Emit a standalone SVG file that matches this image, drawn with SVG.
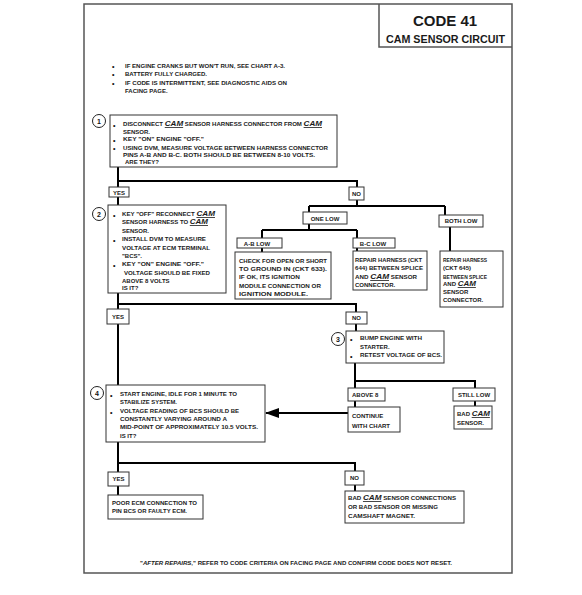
<svg xmlns="http://www.w3.org/2000/svg" width="582" height="595" viewBox="0 0 582 595">
<style>
.t{font-family:"Liberation Sans",Arial,sans-serif;font-weight:bold;font-size:6px;fill:#1a1a1a}
.c{text-anchor:middle}
.cam{font-style:italic;font-size:8px;text-decoration:underline}
.box{fill:#fff;stroke:#333;stroke-width:1}
.frame{fill:none;stroke:#555;stroke-width:1.5}
.con{fill:none;stroke:#000;stroke-width:2}
.num{fill:#fff;stroke:#222;stroke-width:1}
.n{font-family:"Liberation Sans",Arial,sans-serif;font-weight:bold;font-size:7px;text-anchor:middle;fill:#111}
.bul{font-family:"Liberation Sans",Arial,sans-serif;font-weight:bold;font-size:7px;fill:#111}
</style>
<defs>
<marker id="ah" markerWidth="14" markerHeight="10" refX="13" refY="5" orient="auto" markerUnits="userSpaceOnUse">
<path d="M0,0 L14,5 L0,10 Z" fill="#000"/>
</marker>
</defs>
<rect width="582" height="595" fill="#fff"/>
<g id="frame">
<rect class="frame" x="84" y="4" width="428" height="569"/>
<path class="frame" d="M379,4 V47 H512"/>
<text class="t c" x="445" y="26" style="font-size:15px">CODE 41</text>
<text class="t c" x="445.5" y="43" style="font-size:11.5px" textLength="119" lengthAdjust="spacingAndGlyphs">CAM SENSOR CIRCUIT</text>
</g>
<g id="notes">
<text class="bul" x="112" y="69">•</text>
<text class="bul" x="112" y="77">•</text>
<text class="bul" x="112" y="86">•</text>
<text class="t" x="125" y="68" textLength="160" lengthAdjust="spacingAndGlyphs">IF ENGINE CRANKS BUT WON'T RUN, SEE CHART A-3.</text>
<text class="t" x="125" y="76" textLength="82" lengthAdjust="spacingAndGlyphs">BATTERY FULLY CHARGED.</text>
<text class="t" x="125" y="85" textLength="162" lengthAdjust="spacingAndGlyphs">IF CODE IS INTERMITTENT, SEE DIAGNOSTIC AIDS ON</text>
<text class="t" x="125" y="93">FACING PAGE.</text>
</g>
<g id="connectors">
<path class="con" d="M118,167 V187 M118,181 H357 V187"/>
<path class="con" d="M118,196 V205"/>
<path class="con" d="M357,200 V206 M309,206 H445 M309,206 V212 M445,206 V215"/>
<path class="con" d="M309,224 V230 M262,230 H357 M262,230 V238 M357,230 V238"/>
<path class="con" d="M262,248 V253 M357,248 V251 M450,227 V251"/>
<path class="con" d="M118,291 V309 M118,304 H356 V312"/>
<path class="con" d="M356,324 V331"/>
<path class="con" d="M118,324 V385"/>
<path class="con" d="M355,363 V388 M355,381 H475 V388"/>
<path class="con" d="M355,401 V407 M475,401 V406"/>
<path class="con" d="M348,413 H266" marker-end="url(#ah)"/>
<path class="con" d="M118,442 V472 M118,463 H355 V471"/>
<path class="con" d="M118,486 V495 M355,485 V491"/>
</g>
<g id="step1">
<circle class="num" cx="99" cy="121" r="6.5"/>
<text class="n" x="99" y="123.5">1</text>
<rect class="box" x="110" y="115" width="227" height="52"/>
<text class="bul" x="113" y="128">•</text>
<text class="bul" x="113" y="143">•</text>
<text class="bul" x="113" y="151">•</text>
<text class="t" x="123" y="126" textLength="199" lengthAdjust="spacingAndGlyphs">DISCONNECT <tspan class="cam">CAM</tspan> SENSOR HARNESS CONNECTOR FROM <tspan class="cam">CAM</tspan></text>
<text class="t" x="123" y="134">SENSOR.</text>
<text class="t" x="123" y="141" textLength="81" lengthAdjust="spacingAndGlyphs">KEY "ON" ENGINE "OFF."</text>
<text class="t" x="123" y="150" textLength="205" lengthAdjust="spacingAndGlyphs">USING DVM, MEASURE VOLTAGE BETWEEN HARNESS CONNECTOR</text>
<text class="t" x="123" y="157" textLength="192" lengthAdjust="spacingAndGlyphs">PINS A-B AND B-C.  BOTH SHOULD BE BETWEEN 8-10 VOLTS.</text>
<text class="t" x="125" y="164">ARE THEY?</text>
</g>
<g id="yes1"><rect class="box" x="109" y="187" width="20" height="10"/><text class="t c" x="119" y="195">YES</text></g>
<g id="no1"><rect class="box" x="349" y="187" width="15" height="13"/><text class="t c" x="356.5" y="196">NO</text></g>
<g id="onelow"><rect class="box" x="303" y="212" width="44" height="12"/><text class="t c" x="325" y="220.5">ONE LOW</text></g>
<g id="bothlow"><rect class="box" x="439" y="215" width="44" height="12"/><text class="t c" x="461" y="223">BOTH LOW</text></g>
<g id="ablow"><rect class="box" x="237" y="238" width="45" height="10"/><text class="t c" x="257" y="245.5">A-B LOW</text></g>
<g id="bclow"><rect class="box" x="353" y="238" width="42" height="10"/><text class="t c" x="373" y="245.5">B-C  LOW</text></g>
<g id="step2">
<circle class="num" cx="99" cy="214" r="6.5"/>
<text class="n" x="99" y="216.5">2</text>
<rect class="box" x="108" y="205" width="118" height="88"/>
<text class="bul" x="113" y="218">•</text>
<text class="bul" x="113" y="243">•</text>
<text class="bul" x="113" y="268">•</text>
<text class="t" x="122" y="216" textLength="93" lengthAdjust="spacingAndGlyphs">KEY "OFF" RECONNECT <tspan class="cam">CAM</tspan></text>
<text class="t" x="122" y="224" textLength="86" lengthAdjust="spacingAndGlyphs">SENSOR HARNESS TO <tspan class="cam">CAM</tspan></text>
<text class="t" x="122" y="233">SENSOR.</text>
<text class="t" x="122" y="241" textLength="84" lengthAdjust="spacingAndGlyphs">INSTALL DVM TO MEASURE</text>
<text class="t" x="122" y="250" textLength="88" lengthAdjust="spacingAndGlyphs">VOLTAGE AT ECM TERMINAL</text>
<text class="t" x="122" y="258">"BCS".</text>
<text class="t" x="122" y="266" textLength="82" lengthAdjust="spacingAndGlyphs">KEY "ON" ENGINE "OFF."</text>
<text class="t" x="124" y="275" textLength="86" lengthAdjust="spacingAndGlyphs">VOLTAGE SHOULD BE FIXED</text>
<text class="t" x="122" y="283">ABOVE 8 VOLTS</text>
<text class="t" x="122" y="290">IS IT?</text>
</g>
<g id="abfix">
<rect class="box" x="235" y="252" width="96" height="47"/>
<text class="t" x="239" y="263" textLength="88" lengthAdjust="spacingAndGlyphs">CHECK FOR OPEN OR SHORT</text>
<text class="t" x="239" y="271" textLength="88" lengthAdjust="spacingAndGlyphs">TO GROUND IN (CKT 633).</text>
<text class="t" x="239" y="279" textLength="61" lengthAdjust="spacingAndGlyphs">IF OK, ITS  IGNITION</text>
<text class="t" x="239" y="288" textLength="82" lengthAdjust="spacingAndGlyphs">MODULE CONNECTION OR</text>
<text class="t" x="239" y="296" textLength="69" lengthAdjust="spacingAndGlyphs">IGNITION MODULE.</text>
</g>
<g id="bcfix">
<rect class="box" x="353" y="251" width="74" height="39"/>
<text class="t" x="355" y="262" textLength="67" lengthAdjust="spacingAndGlyphs">REPAIR HARNESS (CKT</text>
<text class="t" x="355" y="270" textLength="68" lengthAdjust="spacingAndGlyphs">644) BETWEEN SPLICE</text>
<text class="t" x="355" y="279" textLength="62" lengthAdjust="spacingAndGlyphs">AND <tspan class="cam">CAM</tspan> SENSOR</text>
<text class="t" x="355" y="287">CONNECTOR.</text>
</g>
<g id="bothfix">
<rect class="box" x="440" y="251" width="63" height="56"/>
<text class="t" x="443" y="262" textLength="44" lengthAdjust="spacingAndGlyphs">REPAIR HARNESS</text>
<text class="t" x="443" y="270">(CKT 645)</text>
<text class="t" x="443" y="279" textLength="44" lengthAdjust="spacingAndGlyphs">BETWEEN SPLICE</text>
<text class="t" x="443" y="286">AND <tspan class="cam">CAM</tspan></text>
<text class="t" x="443" y="294">SENSOR</text>
<text class="t" x="443" y="302">CONNECTOR.</text>
</g>
<g id="yes2"><rect class="box" x="107" y="309" width="22" height="15"/><text class="t c" x="118" y="319">YES</text></g>
<g id="no2"><rect class="box" x="346" y="312" width="21" height="12"/><text class="t c" x="356.5" y="320">NO</text></g>
<g id="step3">
<circle class="num" cx="338" cy="339" r="6.5"/>
<text class="n" x="338" y="341.5">3</text>
<rect class="box" x="346" y="331" width="98" height="32"/>
<text class="bul" x="350" y="342">•</text>
<text class="bul" x="350" y="359">•</text>
<text class="t" x="360" y="340" textLength="62" lengthAdjust="spacingAndGlyphs">BUMP ENGINE WITH</text>
<text class="t" x="360" y="349">STARTER.</text>
<text class="t" x="360" y="357" textLength="82" lengthAdjust="spacingAndGlyphs">RETEST VOLTAGE OF BCS.</text>
</g>
<g id="above8"><rect class="box" x="348" y="388" width="37" height="13"/><text class="t" x="352" y="397">ABOVE  8</text></g>
<g id="stilllow"><rect class="box" x="453" y="388" width="42" height="13"/><text class="t c" x="474" y="397">STILL LOW</text></g>
<g id="continue">
<rect class="box" x="348" y="407" width="52" height="25"/>
<text class="t" x="352" y="418">CONTINUE</text>
<text class="t" x="352" y="428">WITH CHART</text>
</g>
<g id="badcam">
<rect class="box" x="454" y="406" width="38" height="23"/>
<text class="t" x="457" y="416">BAD <tspan class="cam">CAM</tspan></text>
<text class="t" x="457" y="425">SENSOR.</text>
</g>
<g id="step4">
<circle class="num" cx="97" cy="393" r="6.5"/>
<text class="n" x="97" y="395.5">4</text>
<rect class="box" x="106" y="385" width="159" height="57"/>
<text class="bul" x="110" y="398">•</text>
<text class="bul" x="110" y="415">•</text>
<text class="t" x="120" y="396" textLength="117" lengthAdjust="spacingAndGlyphs">START ENGINE, IDLE FOR 1 MINUTE TO</text>
<text class="t" x="120" y="404" textLength="57" lengthAdjust="spacingAndGlyphs">STABILIZE SYSTEM.</text>
<text class="t" x="120" y="413" textLength="119" lengthAdjust="spacingAndGlyphs">VOLTAGE READING OF BCS SHOULD BE</text>
<text class="t" x="120" y="421" textLength="107" lengthAdjust="spacingAndGlyphs">CONSTANTLY VARYING AROUND A</text>
<text class="t" x="120" y="429" textLength="138" lengthAdjust="spacingAndGlyphs">MID-POINT OF APPROXIMATELY 10.5  VOLTS.</text>
<text class="t" x="120" y="438">IS IT?</text>
</g>
<g id="yes3"><rect class="box" x="108" y="472" width="21" height="14"/><text class="t c" x="118.5" y="481">YES</text></g>
<g id="no3"><rect class="box" x="345" y="471" width="19" height="14"/><text class="t c" x="354.5" y="480">NO</text></g>
<g id="poorecm">
<rect class="box" x="108" y="495" width="95" height="24"/>
<text class="t" x="112" y="505" textLength="85" lengthAdjust="spacingAndGlyphs">POOR ECM CONNECTION TO</text>
<text class="t" x="112" y="513" textLength="75" lengthAdjust="spacingAndGlyphs">PIN BCS OR FAULTY ECM.</text>
</g>
<g id="badconn">
<rect class="box" x="345" y="491" width="119" height="32"/>
<text class="t" x="348" y="500" textLength="108" lengthAdjust="spacingAndGlyphs">BAD <tspan class="cam">CAM</tspan> SENSOR CONNECTIONS</text>
<text class="t" x="348" y="509" textLength="90" lengthAdjust="spacingAndGlyphs">OR BAD SENSOR OR MISSING</text>
<text class="t" x="348" y="518" textLength="67" lengthAdjust="spacingAndGlyphs">CAMSHAFT  MAGNET.</text>
</g>
<g id="footer">
<text class="t" x="140" y="565" textLength="312" lengthAdjust="spacingAndGlyphs">"<tspan font-style="italic">AFTER REPAIRS,</tspan>" REFER TO CODE CRITERIA ON FACING PAGE AND CONFIRM CODE DOES NOT RESET.</text>
</g>
</svg>
